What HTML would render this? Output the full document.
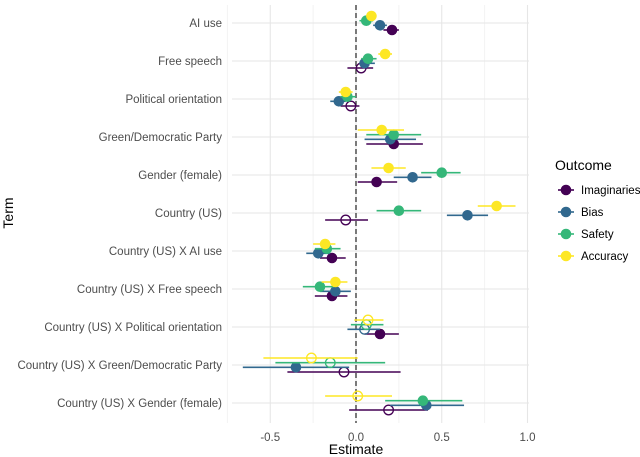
<!DOCTYPE html>
<html><head><meta charset="utf-8"><style>
body{margin:0;background:#fff;}
svg{display:block;font-family:"Liberation Sans",Arial,sans-serif;}
</style></head><body>
<svg id="chart" width="640" height="457">
<g id="grid"></g>
<g id="marks"></g>
<g id="labels"></g>
<text x="356" y="454" font-size="14" fill="#000" text-anchor="middle">Estimate</text>
<text x="13" y="213" font-size="14" fill="#000" text-anchor="middle" transform="rotate(-90 13 213)">Term</text>
<g>
<text x="555" y="170" font-size="14" fill="#000">Outcome</text>
<g id="legend"></g>
</g>
</svg>
<script>
const terms=["AI use","Free speech","Political orientation","Green/Democratic Party","Gender (female)","Country (US)","Country (US) X AI use","Country (US) X Free speech","Country (US) X Political orientation","Country (US) X Green/Democratic Party","Country (US) X Gender (female)"];
const seriesNames=["Imaginaries","Bias","Safety","Accuracy"];
const xTicks=[-0.5,0,0.5,1.0];
const xTickLabels=["-0.5","0.0","0.5","1.0"];
const estImaginaries=[0.21,0.03,-0.03,0.22,0.12,-0.06,-0.14,-0.14,0.14,-0.07,0.19];
const loImaginaries=[0.16,-0.05,-0.09,0.06,0.01,-0.18,-0.21,-0.24,0.05,-0.40,-0.04];
const hiImaginaries=[0.25,0.10,0.02,0.39,0.24,0.07,-0.06,-0.05,0.25,0.26,0.42];
const sigImaginaries=[1,0,0,1,1,0,1,1,1,0,0];
const estBias=[0.14,0.05,-0.10,0.20,0.33,0.65,-0.22,-0.12,0.05,-0.35,0.41];
const loBias=[0.10,0.02,-0.15,0.05,0.22,0.53,-0.29,-0.21,-0.05,-0.66,0.20];
const hiBias=[0.18,0.11,-0.06,0.35,0.44,0.77,-0.15,-0.03,0.14,-0.04,0.63];
const sigBias=[1,1,1,1,1,1,1,1,0,1,1];
const estSafety=[0.06,0.07,-0.05,0.22,0.50,0.25,-0.17,-0.21,0.06,-0.15,0.39];
const loSafety=[0.02,0.03,-0.09,0.06,0.38,0.12,-0.24,-0.31,-0.03,-0.47,0.17];
const hiSafety=[0.10,0.12,0.00,0.38,0.61,0.38,-0.09,-0.13,0.16,0.17,0.62];
const sigSafety=[1,1,1,1,1,1,1,1,0,0,1];
const estAccuracy=[0.09,0.17,-0.06,0.15,0.19,0.82,-0.18,-0.12,0.07,-0.26,0.01];
const loAccuracy=[0.06,0.13,-0.10,0.01,0.09,0.71,-0.25,-0.20,-0.01,-0.54,-0.18];
const hiAccuracy=[0.12,0.21,-0.02,0.28,0.29,0.93,-0.12,-0.05,0.16,0.01,0.21];
const sigAccuracy=[1,1,1,1,1,1,1,1,0,0,0];

const colors=["#440154","#31688E","#35B779","#FDE725"];
const ests=[estImaginaries,estBias,estSafety,estAccuracy];
const los=[loImaginaries,loBias,loSafety,loAccuracy];
const his=[hiImaginaries,hiBias,hiSafety,hiAccuracy];
const sigs=[sigImaginaries,sigBias,sigSafety,sigAccuracy];
const dodge=[7,2.3,-2.3,-7];
const NS="http://www.w3.org/2000/svg";
const X0=356,XS=171.5,PL=232,PR=529,PT=5,PB=423;
const xs=v=>X0+v*XS;
const ys=i=>23+i*38;
function mk(t,a,p){const e=document.createElementNS(NS,t);for(const k in a)e.setAttribute(k,a[k]);p.appendChild(e);return e;}
const grid=document.getElementById('grid'),marks=document.getElementById('marks'),labels=document.getElementById('labels');
[-0.75,-0.25,0.25,0.75].forEach(v=>{const l=mk('line',{x1:xs(v),x2:xs(v),y1:PT,y2:PB,stroke:'#f2f2f2','stroke-width':1},grid);

});
xTicks.forEach((v,i)=>{const l=mk('line',{x1:xs(v),x2:xs(v),y1:PT,y2:PB,stroke:'#e6e6e6','stroke-width':1.1},grid);


const t=mk('text',{x:xs(v),y:441,'font-size':11.5,fill:'#4d4d4d','text-anchor':'middle'},labels);t.textContent=xTickLabels[i];

});
terms.forEach((n,i)=>{const l=mk('line',{x1:PL,x2:PR,y1:ys(i),y2:ys(i),stroke:'#e6e6e6','stroke-width':1.1},grid);


const t=mk('text',{x:222,y:ys(i)+4,'font-size':11.5,fill:'#4d4d4d','text-anchor':'end'},labels);t.textContent=n;

});
const z=mk('line',{x1:xs(0),x2:xs(0),y1:PT,y2:PB,stroke:'#333','stroke-width':1.3,'stroke-dasharray':'5,3'},grid);


for(let s=0;s<4;s++){for(let i=0;i<terms.length;i++){const y=ys(i)+dodge[s];
const l=mk('line',{x1:xs(los[s][i]),x2:xs(his[s][i]),y1:y,y2:y,stroke:colors[s],'stroke-width':1.6},marks);


const c=mk('circle',{cx:xs(ests[s][i]),cy:y,r:sigs[s][i]?5.3:4.8,fill:sigs[s][i]?colors[s]:'none',stroke:colors[s],'stroke-width':sigs[s][i]?0:1.3},marks);

}}
const lg=document.getElementById('legend');
seriesNames.forEach((n,s)=>{const y=190+s*22;
const l=mk('line',{x1:558,x2:574,y1:y,y2:y,stroke:colors[s],'stroke-width':1.6},lg);


const c=mk('circle',{cx:566,cy:y,r:5.3,fill:colors[s]},lg);


const t=mk('text',{x:581,y:y+4,'font-size':11.5,fill:'#000'},lg);t.textContent=n;

});
</script>
</body></html>
